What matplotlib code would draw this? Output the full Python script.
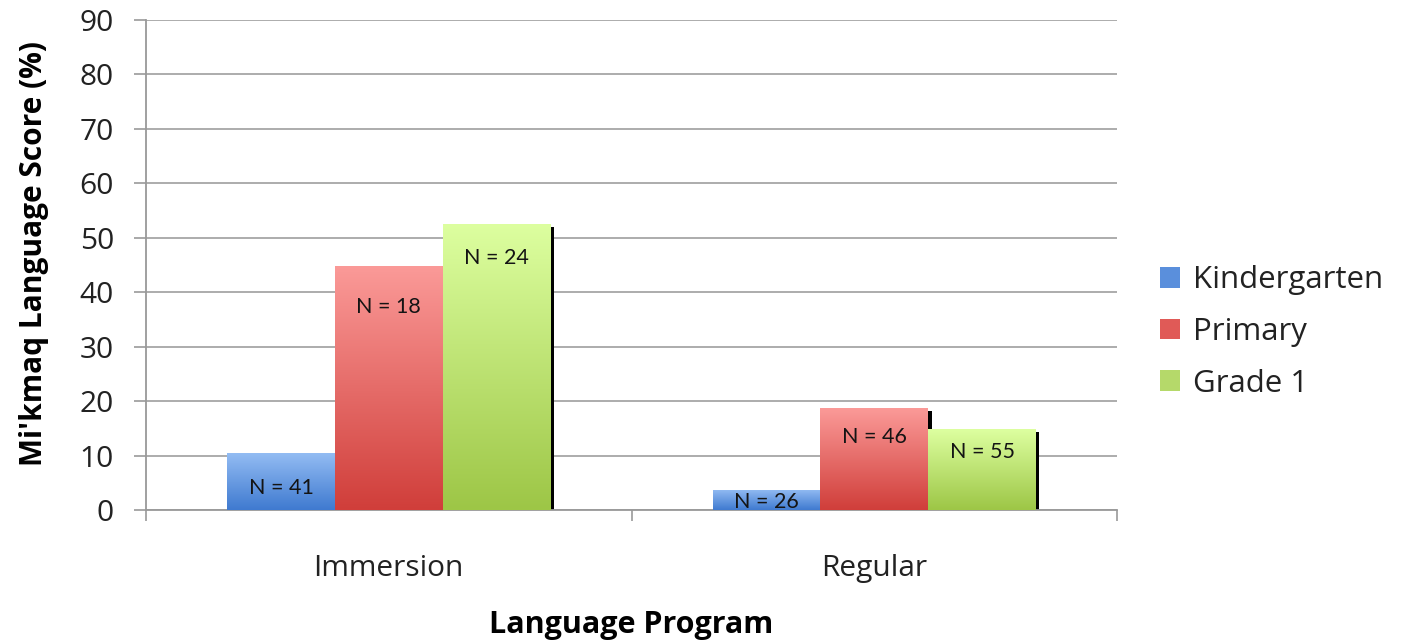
import numpy as np
import matplotlib
matplotlib.use("Agg")
import matplotlib.pyplot as plt
from matplotlib.colors import LinearSegmentedColormap
from matplotlib.ticker import FixedLocator
from matplotlib.patches import Patch

# Mean Mi'kmaq language scores by program and grade
programs = ["Immersion", "Regular"]
grades = ["Kindergarten", "Primary", "Grade 1"]
kindergarten = [10.4, 3.7]
primary = [44.8, 18.7]
grade1 = [52.6, 14.8]
sample_sizes = [[41, 26], [18, 46], [24, 55]]  # per grade, per program
y_ticks = [0, 10, 20, 30, 40, 50, 60, 70, 80, 90]

series = [kindergarten, primary, grade1]
# (top colour, bottom colour) of each series' vertical gradient
gradients = [("#93bcf3", "#3f7ad0"),
             ("#fb9a98", "#d03e3a"),
             ("#ddffa0", "#9dc646")]
legend_colors = ["#5a8fdc", "#e05a57", "#b5d96a"]
# distance (pixels) of each N label below its bar top
label_drop = [[35, 12], [41, 29], [34, 23]]

plt.rcParams["font.family"] = ["Open Sans", "DejaVu Sans"]

fig = plt.figure(figsize=(14.12, 6.41), dpi=100)
ax = fig.add_axes([146 / 1412, 131 / 641, 971 / 1412, 490 / 641])

x = np.arange(len(programs))
width = 0.222
offsets = [-width, 0, width]
px = 1.0 / 486  # one pixel in x data units
py = 90.0 / 490  # one pixel in y data units

for i, vals in enumerate(series):
    xs = x + offsets[i]
    # dark drop shadow behind each bar
    ax.bar(xs + 3.5 * px, np.array(vals) - 3 * py, width=width, bottom=0,
           color="black", zorder=2, linewidth=0)
    bars = ax.bar(xs, vals, width=width, color="none", linewidth=0,
                  zorder=3, label=grades[i])
    cmap = LinearSegmentedColormap.from_list("g%d" % i, [gradients[i][1], gradients[i][0]])
    for b in bars:
        x0, y0 = b.get_x(), b.get_y()
        w, h = b.get_width(), b.get_height()
        grad = np.linspace(0, 1, 256).reshape(-1, 1)
        im = ax.imshow(grad, cmap=cmap, origin="lower", aspect="auto",
                       extent=(x0, x0 + w, y0, y0 + h), zorder=3,
                       interpolation="bicubic")
        im.set_clip_path(b)

for i, vals in enumerate(series):
    for j, v in enumerate(vals):
        ax.annotate("N = %d" % sample_sizes[i][j], xy=(x[j] + offsets[i], v),
                    xytext=(0, -label_drop[i][j]), textcoords="offset pixels",
                    ha="center", va="center", fontsize=15.5, color="#141414",
                    zorder=5, family=["Lato", "DejaVu Sans"])

ax.set_xlim(-0.5, 1.5)
ax.set_ylim(0, 90)
ax.set_yticks(y_ticks)
ax.set_xticks(x)
ax.set_xticklabels(programs)
ax.xaxis.set_minor_locator(FixedLocator([-0.5, 0.5, 1.5]))
ax.tick_params(axis="x", which="major", length=0, pad=32, labelsize=21.5, labelcolor="#222222")
ax.tick_params(axis="x", which="minor", length=8, width=1.2, color="#999999", direction="out")
ax.tick_params(axis="y", length=9, width=1.2, color="#999999", labelsize=21.5,
               labelcolor="#222222", pad=14)

ax.grid(axis="y", color="#a6a6a6", linewidth=1.3, zorder=0)
ax.set_axisbelow(True)
for s in ["top", "right"]:
    ax.spines[s].set_visible(False)
for s in ["left", "bottom"]:
    ax.spines[s].set_color("#999999")
    ax.spines[s].set_linewidth(1.3)

ax.set_ylabel("Mi'kmaq Language Score (%)", fontsize=21.5, fontweight="bold")
ax.yaxis.set_label_coords(-0.100, 0.524)
ax.set_xlabel("Language Program", fontsize=22, fontweight="bold", labelpad=19)

handles = [Patch(facecolor=c, edgecolor="none") for c in legend_colors]
fig.legend(handles, grades, loc="center left", bbox_to_anchor=(1132 / 1412, 1 - 332 / 641),
           frameon=False, fontsize=22.5, handlelength=0.65, handleheight=0.65,
           handletextpad=0.4, labelspacing=0.7, labelcolor="#222222")

fig.savefig("out.png", dpi=100)
